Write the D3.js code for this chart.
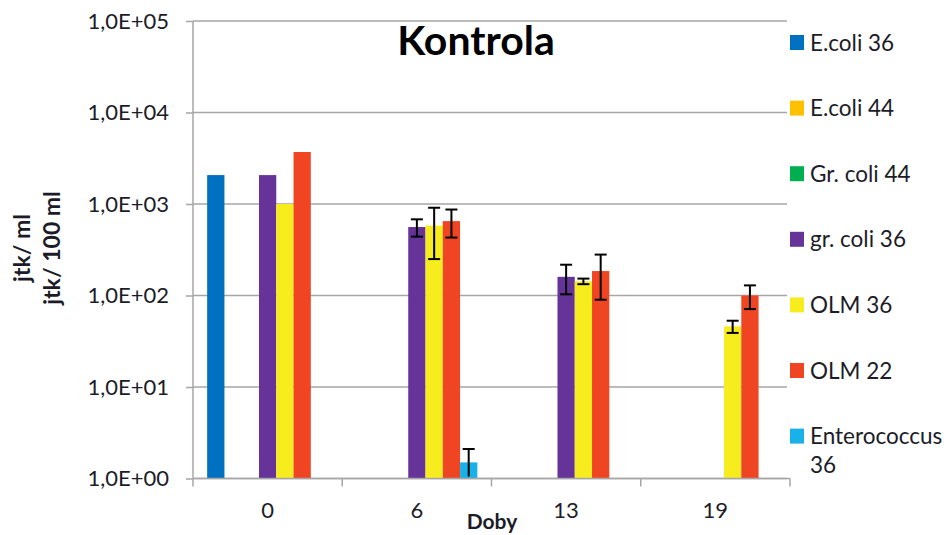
<!DOCTYPE html>
<html>
<head>
<meta charset="utf-8">
<script src="https://cdn.jsdelivr.net/npm/d3@7"></script>
<style>
  html, body { margin: 0; padding: 0; background: #fff; }
  svg { display: block; font-family: Lato, "Noto Sans", sans-serif; }
</style>
</head>
<body>
<svg id="chart" width="950" height="535"></svg>
<script>
// Sampling days and series
const categories = ["0", "6", "13", "19"];
const seriesNames = ["E.coli 36", "E.coli 44", "Gr. coli 44", "gr. coli 36", "OLM 36", "OLM 22", "Enterococcus 36"];
const seriesColors = ["#0070C0", "#FFC000", "#00B050", "#663399", "#F7EC1E", "#F04523", "#1AB0E8"];

// Counts (jtk per ml / 100 ml), null = not measured
const ecoli36 = [2070, null, null, null];
const ecoli44 = [null, null, null, null];
const grColi44 = [null, null, null, null];
const grColi36 = [2070, 560, 160, null];
const olm36 = [1000, 580, 143, 46];
const olm22 = [3700, 650, 185, 100];
const enterococcus36 = [null, 1.5, null, null];

// Standard deviations
const ecoli36Err = [null, null, null, null];
const ecoli44Err = [null, null, null, null];
const grColi44Err = [null, null, null, null];
const grColi36Err = [null, 120, 57, null];
const olm36Err = [null, 330, 10, 7];
const olm22Err = [null, 220, 95, 29];
const enterococcus36Err = [null, 0.6, null, null];

const yTicks = [1, 10, 100, 1000, 10000, 100000];
const yTickLabels = ["1,0E+00", "1,0E+01", "1,0E+02", "1,0E+03", "1,0E+04", "1,0E+05"];

const values = [ecoli36, ecoli44, grColi44, grColi36, olm36, olm22, enterococcus36];
const errors = [ecoli36Err, ecoli44Err, grColi44Err, grColi36Err, olm36Err, olm22Err, enterococcus36Err];

const rows = [];
seriesNames.forEach((s, si) => {
  categories.forEach((c, ci) => {
    if (values[si][ci] != null) {
      rows.push({ series: s, si, cat: c, value: values[si][ci], err: errors[si][ci] });
    }
  });
});

const svg = d3.select("#chart");
const plot = { left: 193, right: 790, top: 21, bottom: 478.5 };
const textColor = "#1c1c28";
const gridColor = "#a6a6a6";

const x = d3.scaleBand().domain(categories).range([plot.left, plot.right]).paddingInner(0).paddingOuter(0);
const xs = d3.scaleBand().domain(seriesNames).range([0, x.bandwidth()]).paddingInner(0).paddingOuter(0.82);
const y = d3.scaleLog().domain([1, 100000]).range([plot.bottom, plot.top]);

// Horizontal gridlines
svg.append("g")
  .selectAll("line")
  .data(yTicks)
  .join("line")
  .attr("x1", plot.left)
  .attr("x2", plot.right - 3)
  .attr("y1", d => y(d))
  .attr("y2", d => y(d))
  .attr("stroke", gridColor)
  .attr("stroke-width", 1.5);

// Bars
svg.append("g")
  .selectAll("rect")
  .data(rows)
  .join("rect")
  .attr("x", d => x(d.cat) + xs(d.series))
  .attr("width", xs.bandwidth())
  .attr("y", d => y(d.value))
  .attr("height", d => plot.bottom - y(d.value))
  .attr("fill", d => seriesColors[d.si]);

// Error bars
const errRows = rows.filter(d => d.err != null);
const capW = 12;
const eg = svg.append("g").attr("stroke", "#000").attr("stroke-width", 2).attr("fill", "none");
errRows.forEach(d => {
  const cx = x(d.cat) + xs(d.series) + xs.bandwidth() / 2;
  const yHi = y(d.value + d.err);
  const lo = d.value - d.err;
  const yLo = lo > 1 ? y(lo) : plot.bottom - 2;
  eg.append("line").attr("x1", cx).attr("x2", cx).attr("y1", yHi).attr("y2", yLo);
  eg.append("line").attr("x1", cx - capW / 2).attr("x2", cx + capW / 2).attr("y1", yHi).attr("y2", yHi);
  if (lo > 1) {
    eg.append("line").attr("x1", cx - capW / 2).attr("x2", cx + capW / 2).attr("y1", yLo).attr("y2", yLo);
  }
});

// Y axis
const yAxis = svg.append("g")
  .attr("transform", `translate(${plot.left},0)`)
  .call(d3.axisLeft(y).tickValues(yTicks).tickFormat((d, i) => yTickLabels[i]).tickSize(7).tickPadding(17));
yAxis.selectAll("path, line").attr("stroke", gridColor).attr("stroke-width", 1.5);
yAxis.select(".domain").attr("d", `M0,${plot.top}V${plot.bottom}`);
yAxis.selectAll("text").attr("font-size", 22).attr("fill", textColor).attr("font-family", "Lato, sans-serif");

// X axis
const xAxis = svg.append("g")
  .attr("transform", `translate(0,${plot.bottom})`)
  .call(d3.axisBottom(x).tickSize(0).tickPadding(24));
xAxis.select(".domain").attr("stroke", gridColor).attr("stroke-width", 1.5)
  .attr("d", `M${plot.left},0H${plot.right}`);
xAxis.selectAll("text").attr("font-size", 22).attr("fill", textColor).attr("font-family", "Lato, sans-serif");
// Category boundary ticks
const bounds = categories.map(c => x(c)).concat([plot.right]);
xAxis.append("g").selectAll("line")
  .data(bounds)
  .join("line")
  .attr("x1", d => d).attr("x2", d => d)
  .attr("y1", 0).attr("y2", 8)
  .attr("stroke", gridColor).attr("stroke-width", 1.5);

// Title
svg.append("text")
  .attr("x", 476).attr("y", 55)
  .attr("text-anchor", "middle")
  .attr("font-size", 41).attr("font-weight", "bold")
  .attr("fill", "#000")
  .text("Kontrola");

// Axis titles
svg.append("text")
  .attr("x", 492).attr("y", 529)
  .attr("text-anchor", "middle")
  .attr("font-size", 21).attr("font-weight", "bold")
  .attr("fill", textColor)
  .text("Doby");

const yTitle = svg.append("text")
  .attr("transform", `translate(0,248) rotate(-90)`)
  .attr("text-anchor", "middle")
  .attr("font-size", 23).attr("font-weight", "bold")
  .attr("fill", textColor);
yTitle.append("tspan").attr("x", 0).attr("y", 30).text("jtk/ ml");
yTitle.append("tspan").attr("x", 0).attr("y", 60).text("jtk/ 100 ml");

// Legend
const legend = svg.append("g");
seriesNames.forEach((s, i) => {
  const cy = 42.5 + i * 65.6;
  const g = legend.append("g").attr("transform", `translate(790,${cy})`);
  g.append("rect").attr("x", 0).attr("y", -7.5).attr("width", 14).attr("height", 15).attr("fill", seriesColors[i]);
  const parts = s === "Enterococcus 36" ? ["Enterococcus", "36"] : [s];
  const t = g.append("text").attr("font-size", 22.5).attr("fill", textColor);
  parts.forEach((p, k) => {
    t.append("tspan").attr("x", 20).attr("y", 8 + k * 29).text(p);
  });
});
</script>
</body>
</html>
